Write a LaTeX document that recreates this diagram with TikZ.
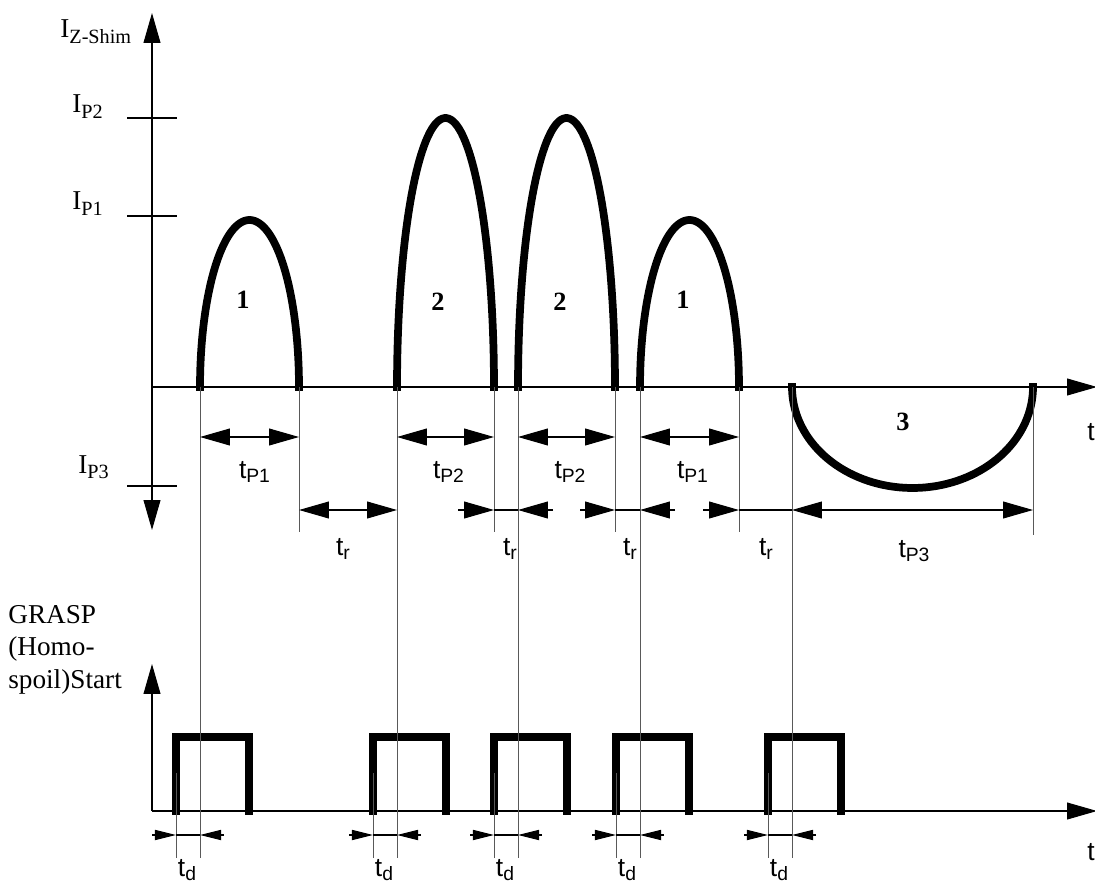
\documentclass[tikz,border=0pt]{standalone}
\usepackage{fontspec}
\setmainfont{Liberation Serif}
\setsansfont{Liberation Sans}
\usetikzlibrary{arrows.meta}

\newcommand{\ilab}[1]{I\raisebox{-3pt}{\fontsize{11.5}{12}\selectfont #1}}
\newcommand{\tlab}[1]{t\raisebox{-2.8pt}{\fontsize{11}{12}\selectfont #1}}

\tikzset{
    bigtip/.tip={Triangle[length=17pt,width=9.6pt]},
    smalltip/.tip={Triangle[length=12pt,width=5.8pt]},
    axisline/.style={line width=0.6pt},
    pulse/.style={line width=4.4pt, line cap=rect, line join=miter},
    guide/.style={line width=0.55pt, black!65},
    dimline/.style={line width=0.6pt},
    tl/.style={font=\sffamily\fontsize{15}{17}\selectfont, inner sep=0pt, anchor=base},
    il/.style={font=\fontsize{15.5}{18}\selectfont, inner sep=0pt, anchor=base west},
    num/.style={font=\bfseries\fontsize{15}{17}\selectfont, inner sep=0pt}
}

\begin{document}
\begin{tikzpicture}[x=0.02cm, y=-0.02cm]
    \useasboundingbox (0,0) rectangle (1095,885);

    \draw[axisline, bigtip-bigtip] (152,530) -- (152,13);
    \draw[axisline, -bigtip] (152,387) -- (1097,387);
    \draw[axisline, -bigtip] (152,811) -- (152,664);
    \draw[axisline, -bigtip] (152,811) -- (1097,811);
    \draw[axisline] (127,118) -- (177,118) (127,216) -- (177,216) (127,486) -- (177,486);

    \foreach \a/\b/\h in {200/299/220, 397/494/118, 518/615/118, 640/739/220}
        \draw[pulse] plot[domain=180:0, samples=72] ({(\a+\b)/2+(\b-\a)/2*cos(\x)}, {387-(387-\h)*sin(\x)});
    \draw[pulse] plot[domain=180:360, samples=72] ({912.5+120.5*cos(\x)}, {387-101*sin(\x)});

    \foreach \s in {200,397,518,640,792}
        \draw[pulse] (\s-24,811) -- (\s-24,737) -- (\s+49,737) -- (\s+49,811);

    \foreach \s in {200,397,518,640,792}
        \draw[guide] (\s,387) -- (\s,858) (\s-24,773) -- (\s-24,858);
    \foreach \s in {299,494,615,739}
        \draw[guide] (\s,387) -- (\s,532);
    \draw[guide] (1033,387) -- (1033,535);

    \draw[dimline, bigtip-bigtip] (200,437) -- (299,437);
    \draw[dimline, bigtip-bigtip] (397,437) -- (494,437);
    \draw[dimline, bigtip-bigtip] (518,437) -- (615,437);
    \draw[dimline, bigtip-bigtip] (640,437) -- (739,437);
    \draw[dimline, bigtip-bigtip] (299,510) -- (397,510);
    \draw[dimline, bigtip-bigtip] (792,510) -- (1033,510);
    \draw[dimline]
    (458,510) edge[-bigtip] (494,510)
    (494,510) -- (518,510)
    (553,510) edge[-bigtip] (518,510)
    (580,510) edge[-bigtip] (615,510)
    (615,510) -- (640,510)
    (675,510) edge[-bigtip] (640,510)
    (703,510) edge[-bigtip] (739,510)
    (739,510) -- (792,510);

    \foreach \s in {200,397,518,640,792}
        \draw[dimline]
        (\s-48,835) edge[-smalltip] (\s-24,835)
        (\s-24,835) -- (\s,835)
        (\s+24,835) edge[-smalltip] (\s,835);

    \node[il] (izshim) at (60,38) {\ilab{Z-Shim}};
    \node[il] (ip2) at (72,113) {\ilab{P2}};
    \node[il] (ip1) at (72,210) {\ilab{P1}};
    \node[il] (ip3) at (78,473) {\ilab{P3}};
    \node[il] (grasp) at (8,623) {GRASP};
    \node[il] (homo) at (8,655) {(Homo-};
    \node[il] (spoil) at (8,688) {spoil)Start};

    \node[num] (n1a) at (243,300) {1};
    \node[num] (n2a) at (438,302) {2};
    \node[num] (n2b) at (560,302) {2};
    \node[num] (n1b) at (683,300) {1};
    \node[num] (n3) at (903,422) {3};

    \node[tl] (tp1a) at (254.5,478) {\tlab{P1}};
    \node[tl] (tp2a) at (448.5,478) {\tlab{P2}};
    \node[tl] (tp2b) at (570,478) {\tlab{P2}};
    \node[tl] (tp1b) at (692.5,478) {\tlab{P1}};
    \node[tl] (tp3) at (914,557) {\tlab{P3}};
    \foreach \s/\n in {343/a,510/b,630/c,766/d}
        \node[tl] (tr\n) at (\s,555) {\tlab{r}};
    \foreach \s/\n in {200/a,397/b,518/c,640/d,792/e}
        \node[tl] (td\n) at (\s-13,876) {\tlab{d}};
    \node[tl, anchor=base west] (taxis) at (1087,440) {t};
    \node[tl, anchor=base west] (tlow) at (1087,860) {t};
\end{tikzpicture}
\end{document}
